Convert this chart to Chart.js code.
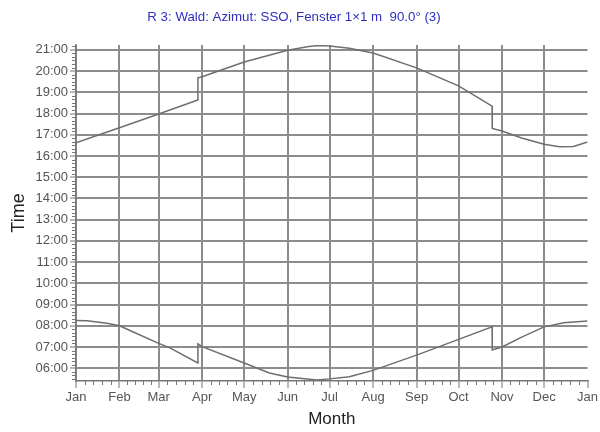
<!DOCTYPE html>
<html>
<head>
<meta charset="utf-8">
<script src="https://cdn.jsdelivr.net/npm/chart.js@4/dist/chart.umd.min.js"></script>
<style>
  html, body { margin: 0; padding: 0; background: #fff; }
  #wrap { width: 600px; height: 432px; }
</style>
</head>
<body>
<div id="wrap"><canvas id="sunChart"></canvas></div>
<script>
// DATA
const monthNames = ['Jan', 'Feb', 'Mar', 'Apr', 'May', 'Jun', 'Jul', 'Aug', 'Sep', 'Oct', 'Nov', 'Dec', 'Jan'];
const monthStartDays = [0, 31, 59, 90, 120, 151, 181, 212, 243, 273, 304, 334, 365];
const hourTicks = [6, 7, 8, 9, 10, 11, 12, 13, 14, 15, 16, 17, 18, 19, 20, 21];

// evening curve (end of sun on window), day of year -> hours
const endDays = [0, 31, 59, 86.9, 87, 90, 120, 151, 165, 172, 181, 195, 212, 243, 273, 296.9, 297, 304, 318, 334, 345, 355, 365];
const endTimes = [16.62, 17.33, 17.98, 18.64, 19.68, 19.73, 20.43, 20.98, 21.15, 21.2, 21.18, 21.08, 20.85, 20.15, 19.3, 18.35, 17.3, 17.18, 16.85, 16.55, 16.43, 16.45, 16.66];

// morning curve (start of sun on window)
const startDays = [0, 8, 22, 31, 38.5, 59, 67, 86.9, 87, 90, 120, 138, 151, 172, 181, 195, 212, 243, 273, 296.9, 297, 304, 318, 334, 348, 365];
const startTimes = [8.25, 8.24, 8.12, 8.0, 7.78, 7.17, 6.96, 6.25, 7.15, 7.02, 6.25, 5.78, 5.59, 5.45, 5.5, 5.6, 5.9, 6.62, 7.36, 7.95, 6.86, 7.0, 7.47, 7.95, 8.14, 8.23];

const toPoints = (days, vals) => days.map((d, i) => ({ x: d, y: vals[i] }));

const pad2 = n => String(n).padStart(2, '0');

// small ticks between the labelled ones
const minorTicks = {
  id: 'minorTicks',
  afterDraw(chart) {
    const ctx = chart.ctx;
    const xs = chart.scales.x;
    const ys = chart.scales.y;
    ctx.save();
    ctx.strokeStyle = '#777';
    ctx.lineWidth = 1;
    ctx.beginPath();
    for (let i = 0; i < monthStartDays.length - 1; i++) {
      const step = (monthStartDays[i + 1] - monthStartDays[i]) / 5;
      for (let k = 1; k < 5; k++) {
        const px = Math.round(xs.getPixelForValue(monthStartDays[i] + k * step)) + 0.5;
        ctx.moveTo(px, xs.top);
        ctx.lineTo(px, xs.top + 4);
      }
    }
    for (let m = Math.ceil(ys.min * 6); m <= Math.floor(ys.max * 6); m++) {
      if (m % 6 === 0) continue;
      const py = Math.round(ys.getPixelForValue(m / 6)) + 0.5;
      ctx.moveTo(ys.right, py);
      ctx.lineTo(ys.right - 4, py);
    }
    ctx.stroke();
    ctx.restore();
  }
};

const lineStyle = {
  borderColor: '#6e6e6e',
  borderWidth: 1.5,
  pointRadius: 0,
  tension: 0,
  fill: false
};

new Chart(document.getElementById('sunChart'), {
  type: 'line',
  data: {
    datasets: [
      { label: 'Ende', data: toPoints(endDays, endTimes), ...lineStyle },
      { label: 'Beginn', data: toPoints(startDays, startTimes), ...lineStyle }
    ]
  },
  options: {
    responsive: true,
    maintainAspectRatio: false,
    animation: false,
    layout: { padding: { left: 0, right: 12, top: 0, bottom: 0 } },
    plugins: {
      legend: { display: false },
      tooltip: { enabled: false },
      title: {
        display: true,
        text: 'R 3: Wald: Azimut: SSO, Fenster 1×1 m  90.0° (3)',
        color: '#2f2fc0',
        font: { family: 'Liberation Sans, Arial, sans-serif', size: 13.3, weight: 'normal' },
        padding: { top: 9.5, bottom: 19.5 }
      }
    },
    scales: {
      x: {
        type: 'linear',
        min: 0,
        max: 365,
        afterBuildTicks: scale => {
          scale.ticks = monthStartDays.map(v => ({ value: v }));
        },
        afterFit: scale => { scale.height = 51; },
        ticks: {
          autoSkip: false,
          maxRotation: 0,
          padding: 2,
          color: '#555',
          font: { family: 'Liberation Sans, Arial, sans-serif', size: 13 },
          callback: (v, i) => monthNames[i]
        },
        grid: {
          color: ctx => (ctx.tick && ctx.tick.value === 365) ? 'rgba(0,0,0,0)' : '#8c8c8c',
          lineWidth: 2,
          tickColor: '#777',
          tickLength: 7,
          tickWidth: 1
        },
        border: { display: true, color: '#777', width: 1.5 },
        title: {
          display: true,
          text: 'Month',
          color: '#222',
          font: { family: 'Liberation Sans, Arial, sans-serif', size: 17 },
          padding: { top: 0, bottom: 2 }
        }
      },
      y: {
        type: 'linear',
        min: 5.4,
        max: 21.23,
        afterBuildTicks: scale => {
          scale.ticks = hourTicks.map(v => ({ value: v }));
        },
        afterFit: scale => { scale.width = 76; },
        ticks: {
          autoSkip: false,
          padding: 2,
          color: '#555',
          font: { family: 'Liberation Sans, Arial, sans-serif', size: 13 },
          callback: v => pad2(v) + ':00'
        },
        grid: {
          color: '#8c8c8c',
          lineWidth: 2,
          tickColor: '#777',
          tickLength: 6,
          tickWidth: 1
        },
        border: { display: true, color: '#777', width: 1.5 },
        title: {
          display: true,
          text: 'Time',
          color: '#222',
          font: { family: 'Liberation Sans, Arial, sans-serif', size: 18 },
          padding: { top: 8, bottom: 0 }
        }
      }
    }
  },
  plugins: [minorTicks]
});
</script>
</body>
</html>
